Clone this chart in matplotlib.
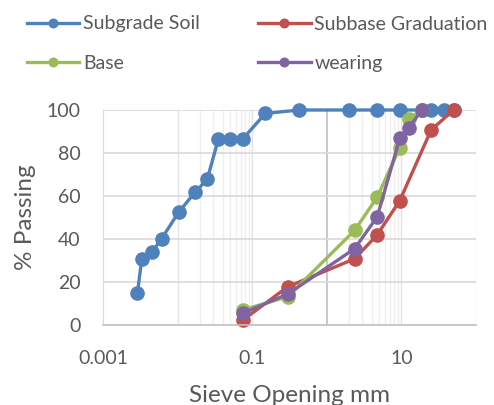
import matplotlib
matplotlib.use("Agg")
import matplotlib.pyplot as plt
from matplotlib.ticker import FixedLocator, NullFormatter

plt.rcParams["font.family"] = ["Lato", "DejaVu Sans"]

# sieve opening (mm) and % passing for each gradation
soil_x = [0.0029, 0.0033, 0.0045, 0.0061, 0.0103, 0.0172, 0.0249, 0.0353,
          0.0502, 0.075, 0.15, 0.425, 2.0, 4.75, 9.5, 19, 25, 37.5, 50]
soil_y = [15, 30.5, 33.8, 40.1, 52.4, 61.8, 67.7, 86.6,
          86.6, 86.6, 98.4, 100, 100, 100, 100, 100, 100, 100, 100]

subbase_x = [0.075, 0.3, 2.36, 4.75, 9.5, 25, 50]
subbase_y = [2.3, 17.8, 30.8, 42.0, 57.8, 90.7, 100]

base_x = [0.075, 0.3, 2.36, 4.75, 9.5, 12.5, 19]
base_y = [7.0, 13.2, 44.0, 59.5, 82.5, 95.8, 100]

wear_x = [0.075, 0.3, 2.36, 4.75, 9.5, 12.5, 19]
wear_y = [5.5, 14.4, 35.5, 50.4, 86.8, 91.8, 100]

x_ticks = [0.001, 0.1, 10]
x_tick_labels = ["0.001", "0.1", "10"]
y_ticks = [0, 20, 40, 60, 80, 100]

txt = "#595959"

fig = plt.figure(figsize=(4.94, 4.05), dpi=100)
ax = fig.add_axes([103 / 494, 1 - 325 / 405, 373 / 494, 215 / 405])

ax.set_xscale("log")
ax.set_xlim(0.001, 100)
ax.set_ylim(0, 100)

# gridlines
for v in [0.02, 0.03, 0.04, 0.05, 0.06, 0.07, 0.08, 0.09, 2, 3, 4, 5, 6, 7, 8, 9]:
    ax.axvline(v, color="#EFEFEF", lw=1, zorder=0)
for v in [0.01, 0.1, 10, 100]:
    ax.axvline(v, color="#E3E3E3", lw=1, zorder=0)
ax.axvline(1, color="#BFBFBF", lw=1.2, zorder=0)
for v in y_ticks[1:]:
    ax.axhline(v, color="#D9D9D9", lw=1.2, zorder=0)

kw = dict(lw=2.4, marker="o", ms=9.5)
l1, = ax.plot(soil_x, soil_y, color="#4F81BD", label="Subgrade Soil", **kw)
l2, = ax.plot(subbase_x, subbase_y, color="#C0504D", label="Subbase Graduation", **kw)
l3, = ax.plot(base_x, base_y, color="#9BBB59", label="Base", **kw)
l4, = ax.plot(wear_x, wear_y, color="#8064A2", label="wearing", **kw)
for l in (l1, l2, l3, l4):
    l.set_clip_on(False)

ax.xaxis.set_major_locator(FixedLocator(x_ticks))
ax.set_xticklabels(x_tick_labels)
ax.xaxis.set_minor_formatter(NullFormatter())
ax.set_yticks(y_ticks)
ax.tick_params(axis="both", which="both", length=0, labelsize=14, colors=txt)
ax.tick_params(axis="x", pad=18)
ax.tick_params(axis="y", pad=16)

for s in ["top", "right"]:
    ax.spines[s].set_visible(False)
ax.spines["left"].set_color("#D9D9D9")
ax.spines["bottom"].set_color("#BFBFBF")
ax.spines["bottom"].set_linewidth(1.2)

ax.set_xlabel("Sieve Opening mm", fontsize=17.5, color=txt, labelpad=13)
ax.set_ylabel("% Passing", fontsize=17.5, color=txt, labelpad=8)

leg = fig.legend(handles=[l1, l3, l2, l4], ncol=2, loc="upper left",
                 bbox_to_anchor=(9 / 494, 1 + 2 / 405), frameon=False,
                 fontsize=14, handlelength=2.7, handletextpad=0.2,
                 columnspacing=3.0, labelspacing=1.15, markerscale=0.65)
for t in leg.get_texts():
    t.set_color(txt)

fig.savefig("out.png", dpi=100)
